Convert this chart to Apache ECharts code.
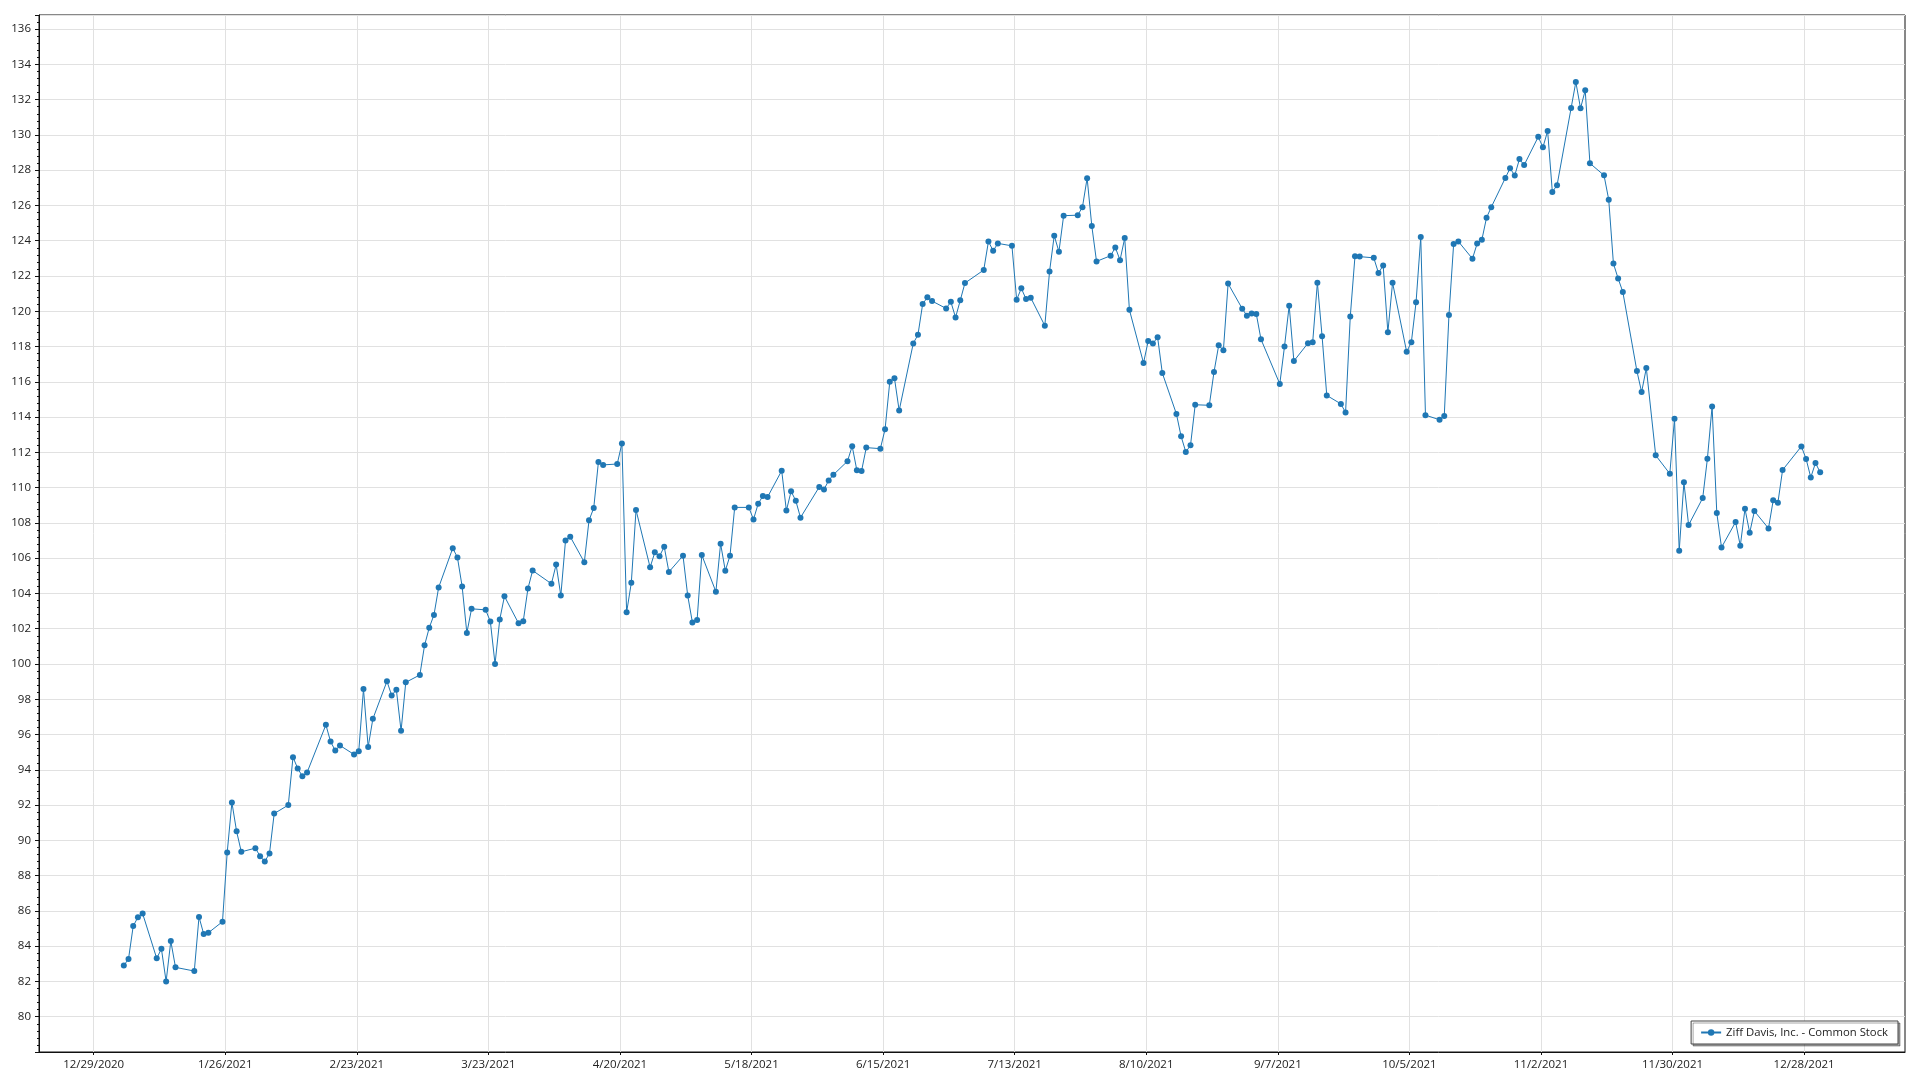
<!DOCTYPE html>
<html><head><meta charset="utf-8">
<script src="https://cdn.jsdelivr.net/npm/echarts@6/dist/echarts.min.js"></script>
<style>html,body{margin:0;padding:0;background:#fff}#c{width:1920px;height:1080px}</style>
</head><body><div id="c"></div>
<script>
const seriesName = 'Ziff Davis, Inc. - Common Stock';

const dates = [
 '2021-01-04','2021-01-05','2021-01-06','2021-01-07','2021-01-08','2021-01-11','2021-01-12','2021-01-13','2021-01-14','2021-01-15','2021-01-19','2021-01-20','2021-01-21','2021-01-22','2021-01-25','2021-01-26','2021-01-27','2021-01-28','2021-01-29',
 '2021-02-01','2021-02-02','2021-02-03','2021-02-04','2021-02-05','2021-02-08','2021-02-09','2021-02-10','2021-02-11','2021-02-12','2021-02-16','2021-02-17','2021-02-18','2021-02-19','2021-02-22','2021-02-23','2021-02-24','2021-02-25','2021-02-26',
 '2021-03-01','2021-03-02','2021-03-03','2021-03-04','2021-03-05','2021-03-08','2021-03-09','2021-03-10','2021-03-11','2021-03-12','2021-03-15','2021-03-16','2021-03-17','2021-03-18','2021-03-19','2021-03-22','2021-03-23','2021-03-24','2021-03-25','2021-03-26','2021-03-29','2021-03-30','2021-03-31',
 '2021-04-01','2021-04-05','2021-04-06','2021-04-07','2021-04-08','2021-04-09','2021-04-12','2021-04-13','2021-04-14','2021-04-15','2021-04-16','2021-04-19','2021-04-20','2021-04-21','2021-04-22','2021-04-23','2021-04-26','2021-04-27','2021-04-28','2021-04-29','2021-04-30',
 '2021-05-03','2021-05-04','2021-05-05','2021-05-06','2021-05-07','2021-05-10','2021-05-11','2021-05-12','2021-05-13','2021-05-14','2021-05-17','2021-05-18','2021-05-19','2021-05-20','2021-05-21','2021-05-24','2021-05-25','2021-05-26','2021-05-27','2021-05-28',
 '2021-06-01','2021-06-02','2021-06-03','2021-06-04','2021-06-07','2021-06-08','2021-06-09','2021-06-10','2021-06-11','2021-06-14','2021-06-15','2021-06-16','2021-06-17','2021-06-18','2021-06-21','2021-06-22','2021-06-23','2021-06-24','2021-06-25','2021-06-28','2021-06-29','2021-06-30',
 '2021-07-01','2021-07-02','2021-07-06','2021-07-07','2021-07-08','2021-07-09','2021-07-12','2021-07-13','2021-07-14','2021-07-15','2021-07-16','2021-07-19','2021-07-20','2021-07-21','2021-07-22','2021-07-23','2021-07-26','2021-07-27','2021-07-28','2021-07-29','2021-07-30',
 '2021-08-02','2021-08-03','2021-08-04','2021-08-05','2021-08-06','2021-08-09','2021-08-10','2021-08-11','2021-08-12','2021-08-13','2021-08-16','2021-08-17','2021-08-18','2021-08-19','2021-08-20','2021-08-23','2021-08-24','2021-08-25','2021-08-26','2021-08-27','2021-08-30','2021-08-31',
 '2021-09-01','2021-09-02','2021-09-03','2021-09-07','2021-09-08','2021-09-09','2021-09-10','2021-09-13','2021-09-14','2021-09-15','2021-09-16','2021-09-17','2021-09-20','2021-09-21','2021-09-22','2021-09-23','2021-09-24','2021-09-27','2021-09-28','2021-09-29','2021-09-30',
 '2021-10-01','2021-10-04','2021-10-05','2021-10-06','2021-10-07','2021-10-08','2021-10-11','2021-10-12','2021-10-13','2021-10-14','2021-10-15','2021-10-18','2021-10-19','2021-10-20','2021-10-21','2021-10-22','2021-10-25','2021-10-26','2021-10-27','2021-10-28','2021-10-29',
 '2021-11-01','2021-11-02','2021-11-03','2021-11-04','2021-11-05','2021-11-08','2021-11-09','2021-11-10','2021-11-11','2021-11-12','2021-11-15','2021-11-16','2021-11-17','2021-11-18','2021-11-19','2021-11-22','2021-11-23','2021-11-24','2021-11-26','2021-11-29','2021-11-30',
 '2021-12-01','2021-12-02','2021-12-03','2021-12-06','2021-12-07','2021-12-08','2021-12-09','2021-12-10','2021-12-13','2021-12-14','2021-12-15','2021-12-16','2021-12-17','2021-12-20','2021-12-21','2021-12-22','2021-12-23','2021-12-27','2021-12-28','2021-12-29','2021-12-30','2021-12-31'
];

const closes = [
 82.90,83.28,85.14,85.64,85.85,83.31,83.85,82.00,84.29,82.80,82.59,85.66,84.69,84.76,85.39,89.31,92.15,90.51,89.35,
 89.56,89.10,88.80,89.26,91.52,92.00,94.72,94.08,93.64,93.85,96.55,95.60,95.09,95.38,94.87,95.06,98.58,95.30,96.89,
 99.02,98.22,98.54,96.21,98.96,99.38,101.06,102.06,102.78,104.34,106.57,106.04,104.39,101.76,103.13,103.07,102.41,100.00,102.52,103.84,102.31,102.42,104.28,
 105.30,104.55,105.64,103.88,107.01,107.22,105.77,108.15,108.84,111.46,111.29,111.34,112.51,102.93,104.61,108.73,105.48,106.33,106.11,106.65,105.22,
 106.14,103.88,102.36,102.50,106.18,104.10,106.82,105.29,106.14,108.88,108.88,108.20,109.09,109.53,109.47,110.96,108.70,109.79,109.26,108.30,
 110.04,109.89,110.41,110.73,111.50,112.35,110.98,110.95,112.27,112.21,113.31,116.00,116.21,114.37,118.18,118.67,120.41,120.79,120.58,120.16,120.54,119.65,
 120.62,121.60,122.34,123.96,123.43,123.85,123.71,120.66,121.30,120.69,120.77,119.18,122.25,124.29,123.38,125.42,125.45,125.90,127.55,124.83,122.83,
 123.15,123.62,122.90,124.15,120.08,117.07,118.32,118.17,118.53,116.50,114.18,112.91,112.02,112.40,114.70,114.67,116.56,118.07,117.79,121.57,120.15,119.75,
 119.87,119.85,118.41,115.88,118.00,120.32,117.18,118.19,118.24,121.62,118.58,115.23,114.75,114.26,119.70,123.12,123.10,123.03,122.17,122.60,118.81,
 121.62,117.70,118.25,120.51,124.21,114.11,113.85,114.06,119.79,123.82,123.96,122.98,123.84,124.05,125.31,125.90,127.56,128.11,127.70,128.63,128.29,
 129.89,129.30,130.22,126.77,127.14,131.53,133.00,131.51,132.53,128.39,127.71,126.33,122.71,121.86,121.10,116.61,115.42,116.78,111.83,110.79,113.90,
 106.42,110.30,107.88,109.41,111.64,114.60,108.56,106.61,108.05,106.70,108.80,107.44,108.67,107.69,109.28,109.14,111.00,112.34,111.63,110.58,111.40,110.87
];

const xTickLabels = ['12/29/2020','1/26/2021','2/23/2021','3/23/2021','4/20/2021','5/18/2021','6/15/2021','7/13/2021','8/10/2021','9/7/2021','10/5/2021','11/2/2021','11/30/2021','12/28/2021'];

// x values are day offsets from the first tick label; each quote stamped at 10:00
const QUOTE_HOUR = 10;
const ORIGIN = Date.UTC(2020, 11, 29);
function isoToDay(s) {
  const p = s.split('-').map(Number);
  return (Date.UTC(p[0], p[1] - 1, p[2]) - ORIGIN) / 86400000;
}
function labelToDay(s) {
  const p = s.split('/').map(Number);
  return (Date.UTC(p[2], p[0] - 1, p[1]) - ORIGIN) / 86400000;
}
const xTickDays = xTickLabels.map(labelToDay);
const points = dates.map((d, i) => [isoToDay(d) + QUOTE_HOUR / 24, closes[i]]);

const xs = points.map(p => p[0]);
const dMin = Math.min(...xs), dMax = Math.max(...xs);
const pad = (dMax - dMin) * 0.05;

const FONT = '"Open Sans", "Noto Sans", sans-serif';
const chart = echarts.init(document.getElementById('c'), null, {renderer: 'canvas'});
chart.setOption({
  animation: false,
  backgroundColor: '#fff',
  grid: {left: 39, right: 15, top: 15, bottom: 28, show: true, borderColor: '#111', borderWidth: 1, containLabel: false},
  legend: {
    right: 22, bottom: 36,
    data: [seriesName],
    backgroundColor: '#fff', borderColor: '#444', borderWidth: 1,
    shadowColor: 'rgba(0,0,0,0.35)', shadowOffsetX: 2, shadowOffsetY: 2, shadowBlur: 0,
    padding: [6, 10, 6, 9],
    itemWidth: 20, itemHeight: 8,
    textStyle: {fontFamily: FONT, fontSize: 11.3, color: '#222'}
  },
  xAxis: {
    type: 'value',
    min: dMin - pad, max: dMax + pad,
    axisLine: {show: true, onZero: false, lineStyle: {color: '#111', width: 1}},
    axisTick: {show: true, length: 3, customValues: xTickDays, lineStyle: {color: '#111'}},
    axisLabel: {
      customValues: xTickDays, margin: 7, fontFamily: FONT, fontSize: 11.5, color: '#222',
      formatter: v => { const i = xTickDays.findIndex(t => Math.abs(t - v) < 1e-6); return i >= 0 ? xTickLabels[i] : ''; }
    },
    splitLine: {show: true, lineStyle: {color: '#e1e1e1', width: 1}}
  },
  yAxis: {
    type: 'value',
    min: 78, max: 136.8, interval: 2,
    axisLine: {show: true, onZero: false, lineStyle: {color: '#111', width: 1}},
    axisTick: {show: true, length: 4, lineStyle: {color: '#111'}},
    minorTick: {show: true, splitNumber: 5, length: 2, lineStyle: {color: '#111'}},
    axisLabel: {margin: 8, fontFamily: FONT, fontSize: 11.5, color: '#222', showMinLabel: false, showMaxLabel: false,
      formatter: v => (Math.abs(v - Math.round(v)) < 1e-6 ? String(Math.round(v)) : '')},
    splitLine: {show: true, lineStyle: {color: '#e1e1e1', width: 1}}
  },
  series: [{
    name: seriesName,
    type: 'line',
    data: points,
    symbol: 'circle', symbolSize: 6,
    showSymbol: true,
    lineStyle: {color: '#1f77b4', width: 1},
    itemStyle: {color: '#1f77b4', borderWidth: 0},
    emphasis: {disabled: true}
  }]
});
</script></body></html>
